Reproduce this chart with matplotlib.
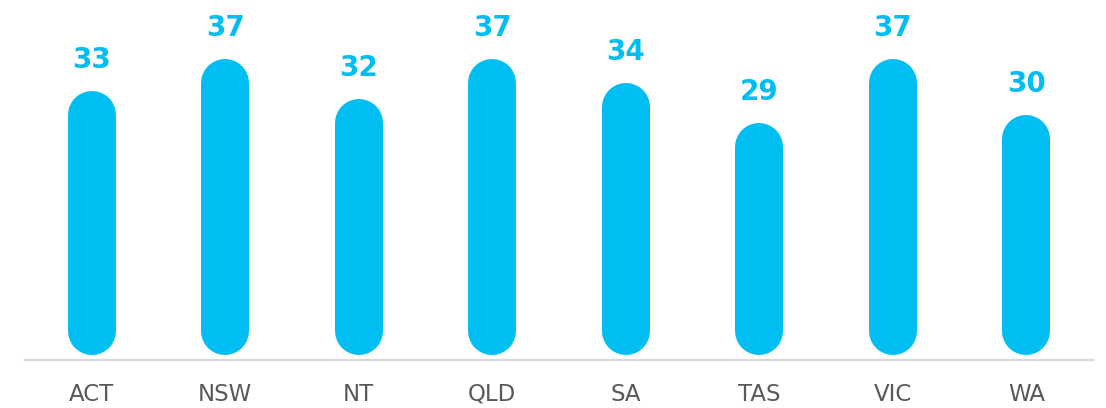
import matplotlib
matplotlib.use("Agg")
import matplotlib.pyplot as plt

# données
states = ["ACT", "NSW", "NT", "QLD", "SA", "TAS", "VIC", "WA"]
values = [33, 37, 32, 37, 34, 29, 37, 30]

BLUE = "#00BEF2"
DPI = 100
BAR_PX = 48          # largeur d'une barre en pixels
PX_PER_UNIT = 8      # échelle verticale

fig = plt.figure(figsize=(11.06, 4.08), dpi=DPI)
ax = fig.add_axes([25 / 1106, 48 / 408, 1068 / 1106, 360 / 408])
ax.set_xlim(-0.5, len(states) - 0.5)
ax.set_ylim(-5 / PX_PER_UNIT, 355 / PX_PER_UNIT)

# barres arrondies : trait épais avec extrémités rondes
cap = BAR_PX / 2 / PX_PER_UNIT
lw = BAR_PX * 72 / DPI
for i, v in enumerate(values):
    ax.plot([i, i], [cap, v - cap], color=BLUE, linewidth=lw,
            solid_capstyle="round", zorder=2)
    ax.annotate(str(v), (i, v), xytext=(0, 12), textcoords="offset points",
                ha="center", va="bottom", color=BLUE, fontsize=20,
                fontweight="bold")

for side in ["top", "right", "left"]:
    ax.spines[side].set_visible(False)
ax.spines["bottom"].set_color("#D9D9D9")
ax.spines["bottom"].set_linewidth(1.6)

ax.set_xticks(range(len(states)))
ax.set_xticklabels(states, fontsize=16.5, color="#595959")
ax.tick_params(axis="x", length=0, pad=16.5)
ax.set_yticks([])

fig.savefig("out.png", dpi=DPI)
